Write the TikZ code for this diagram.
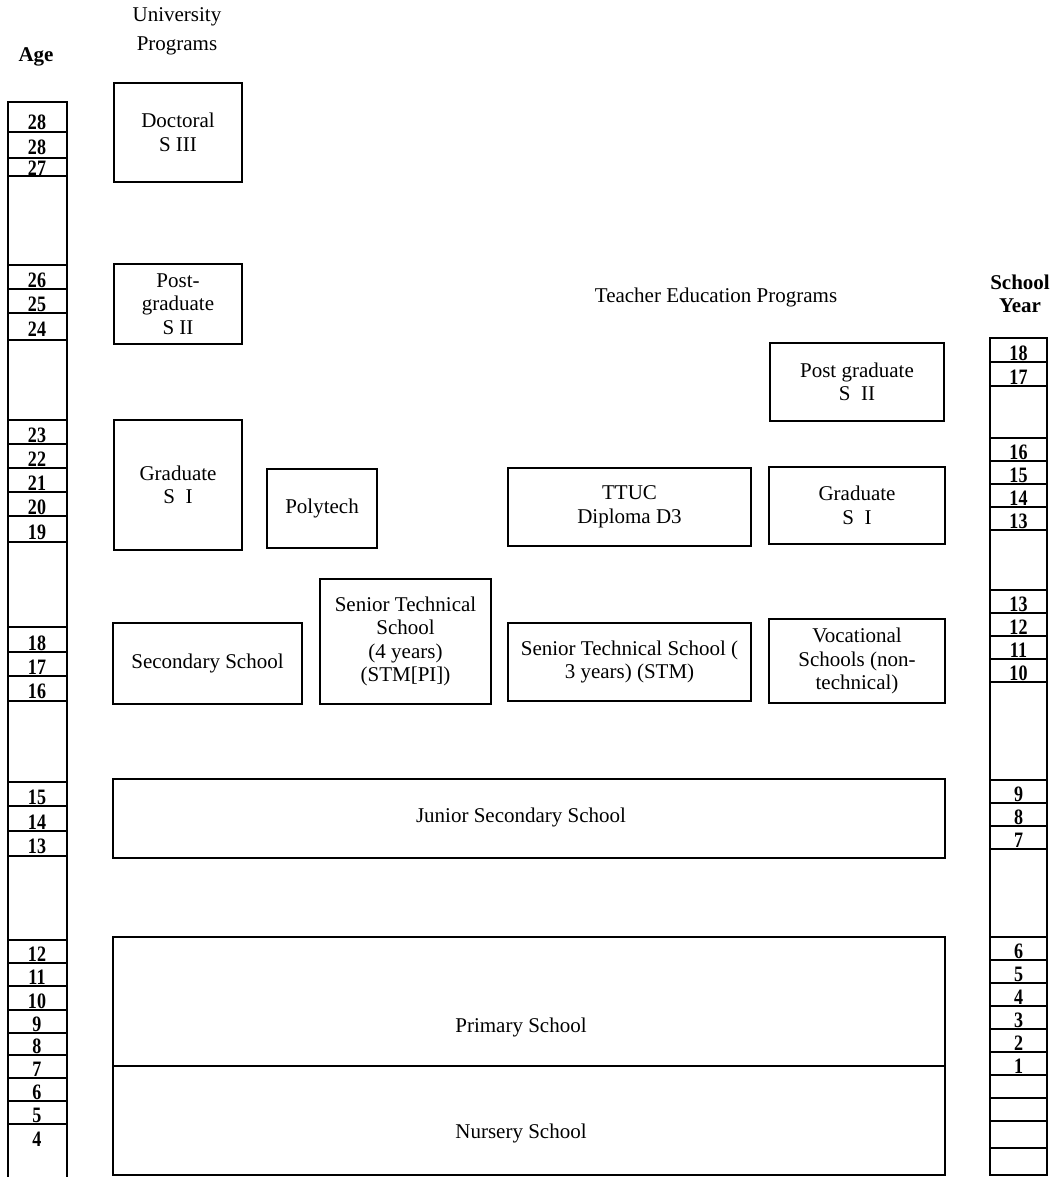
\documentclass[tikz,border=0pt]{standalone}
\usepackage{fontspec}
\setmainfont{Liberation Serif}
\newfontfamily\numfont[FakeStretch=0.82]{Liberation Serif}
\begin{document}
\begin{tikzpicture}[x=1pt,y=-1pt,
  box/.style={draw, line width=2.3pt, align=center, inner sep=0pt, font=\fontsize{21}{23.5}\selectfont},
  lbl/.style={font=\fontsize{21}{23.5}\selectfont, align=center, inner sep=0pt},
  hdr/.style={font=\fontsize{21}{23}\selectfont\bfseries, align=center, inner sep=0pt},
  num/.style={font=\numfont\bfseries\fontsize{22}{22}\selectfont, anchor=base, inner sep=0pt},
  col/.style={line width=2.8pt},
  cell/.style={line width=1.9pt}]
\useasboundingbox (0,0) rectangle (1052,1177);

% headers
\node[lbl, font=\fontsize{21}{29}\selectfont] (univ) at (177,31) {University\\Programs};
\node[hdr] (age) at (36,57) {Age};
\node[hdr] (sy) at (1020,294) {School\\Year};
\node[lbl] (tep) at (716,297) {Teacher Education Programs};

% university programs
\node[box, minimum width=128pt, minimum height=99pt] (doc) at (178,132.5) {Doctoral\\S III};
\node[box, minimum width=128pt, minimum height=80pt] (pg) at (178,304) {Post-\\graduate\\S II};
\node[box, minimum width=128pt, minimum height=130pt] (grad) at (178,485) {Graduate\\S\enspace I};
\node[box, minimum width=110pt, minimum height=79pt] (poly) at (322,508.5) {Polytech};

% teacher education programs
\node[box, minimum width=243pt, minimum height=78pt] (ttuc) at (629.5,507) {TTUC\\Diploma D3};
\node[box, minimum width=176pt, minimum height=77pt] (gradT) at (857,505.5) {Graduate\\S\enspace I};
\node[box, minimum width=174pt, minimum height=78pt] (pgT) at (857,382) {Post graduate\\S\enspace II};

% secondary level
\node[box, minimum width=189pt, minimum height=81pt] (sec) at (207.5,663.5) {Secondary School};
\node[box, minimum width=171pt, minimum height=125pt] (stm4) at (405.5,641.5) {Senior Technical\\School\\(4 years)\\(STM[PI])};
\node[box, minimum width=243pt, minimum height=78pt] (stm3) at (629.5,662) {Senior Technical School (\\3 years) (STM)};
\node[box, minimum width=176pt, minimum height=84pt] (voc) at (857,661) {Vocational\\Schools (non-\\technical)};

% basic level
\node[box, minimum width=832pt, minimum height=79pt] (jun) at (529,818.5) {};
\node[lbl] (junt) at (521,817) {Junior Secondary School};
\node[box, minimum width=832pt, minimum height=129pt] (pri) at (529,1001.5) {};
\node[lbl] (prit) at (521,1027) {Primary School};
\node[box, minimum width=832pt, minimum height=109pt] (nur) at (529,1120.5) {};
\node[lbl] (nurt) at (521,1133) {Nursery School};

% age column
\draw[col] (8,1182) -- (8,102) -- (67,102) -- (67,1182);
\foreach \y in {132,158,176,265,289,313,340,420,444,468,492,516,542,627,652,676,701,782,806,831,856,940,963,986,1010,1033,1055,1078,1101,1124}
  \draw[cell] (8,\y) -- (67,\y);
\foreach \t/\y [count=\i] in {28/130,28/155,27/176,26/287,25/311,24/336,23/442,22/466,21/490,20/514,19/539,18/650,17/674,16/698,15/804,14/829,13/853,12/961,11/984,10/1008,9/1031,8/1053,7/1076,6/1099,5/1122,4/1146}
  \node[num] (a\i) at (37,\y) {\t};

% school year column
\draw[col] (990,338) rectangle (1047,1175);
\foreach \y in {362,386,438,461,484,507,530,590,613,636,659,682,780,803,826,849,937,960,983,1006,1029,1052,1075,1098,1121,1148}
  \draw[cell] (990,\y) -- (1047,\y);
\foreach \t/\y [count=\i] in {18/360,17/384,16/459,15/482,14/505,13/528,13/611,12/634,11/657,10/680,9/801,8/824,7/847,6/958,5/981,4/1004,3/1027,2/1050,1/1073}
  \node[num] (s\i) at (1018.5,\y) {\t};
\end{tikzpicture}
\end{document}
